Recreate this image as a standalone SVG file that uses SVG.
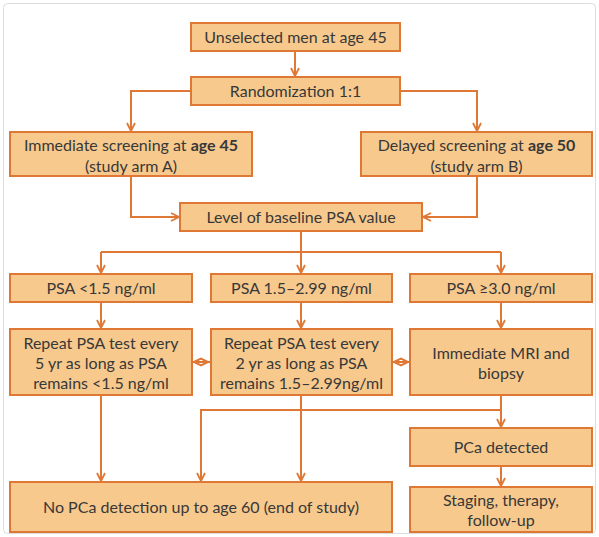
<svg xmlns="http://www.w3.org/2000/svg" width="599" height="537" viewBox="0 0 599 537">
<style>
.box{fill:#F7C98D;stroke:#DF7835;stroke-width:2}
.t{font-family:Lato,"Open Sans","Liberation Sans",sans-serif;font-size:16px;fill:#383838;text-anchor:middle}
.c{fill:none;stroke:#DF7835;stroke-width:2}
.b{font-weight:bold}
</style>
<defs>
<marker id="arr" viewBox="0 0 10 10" refX="9" refY="5" markerWidth="10" markerHeight="10" markerUnits="userSpaceOnUse" orient="auto">
<path d="M1,1 L9,5 L1,9" fill="none" stroke="#DF7835" stroke-width="1.8"/>
</marker>
</defs>
<rect x="3.5" y="3.5" width="592" height="530" rx="4" fill="#fff" stroke="#dcdcdc" stroke-width="1"/>
<g id="connectors">
<path class="c" d="M295,51 V76" marker-end="url(#arr)"/>
<path class="c" d="M191,91 H131 V131" marker-end="url(#arr)"/>
<path class="c" d="M400,91 H477 V131" marker-end="url(#arr)"/>
<path class="c" d="M131,176 V217 H179" marker-end="url(#arr)"/>
<path class="c" d="M477,176 V217 H423" marker-end="url(#arr)"/>
<path class="c" d="M301,231 V252"/>
<path class="c" d="M101,252 H501"/>
<path class="c" d="M101,252 V273" marker-end="url(#arr)"/>
<path class="c" d="M301,252 V273" marker-end="url(#arr)"/>
<path class="c" d="M501,252 V273" marker-end="url(#arr)"/>
<path class="c" d="M101,302 V328" marker-end="url(#arr)"/>
<path class="c" d="M301,302 V328" marker-end="url(#arr)"/>
<path class="c" d="M501,302 V328" marker-end="url(#arr)"/>
<path class="c" d="M192,362 H211"/>
<polygon class="c" points="194,362 201,358.5 208,362 201,365.5"/>
<path class="c" d="M392,362 H410"/>
<polygon class="c" points="394,362 401,358.5 408,362 401,365.5"/>
<path class="c" d="M101,395 V481" marker-end="url(#arr)"/>
<path class="c" d="M301,395 V481" marker-end="url(#arr)"/>
<path class="c" d="M501,395 V427" marker-end="url(#arr)"/>
<path class="c" d="M501,410 H201 V481" marker-end="url(#arr)"/>
<path class="c" d="M501,466 V486" marker-end="url(#arr)"/>
</g>
<g id="n1"><rect class="box" x="191" y="23" width="209" height="28"/><text class="t" x="295.5" y="42.5">Unselected men at age 45</text></g>
<g id="n2"><rect class="box" x="191" y="77" width="209" height="28"/><text class="t" x="295.5" y="96.5">Randomization 1:1</text></g>
<g id="n3"><rect class="box" x="10" y="132" width="242" height="44"/><text class="t" x="131" y="150.5">Immediate screening at <tspan class="b">age 45</tspan></text><text class="t" x="131" y="171.5">(study arm A)</text></g>
<g id="n4"><rect class="box" x="361" y="132" width="231" height="44"/><text class="t" x="476.5" y="150.5">Delayed screening at <tspan class="b">age 50</tspan></text><text class="t" x="476.5" y="171.5">(study arm B)</text></g>
<g id="n5"><rect class="box" x="180" y="203" width="242" height="28"/><text class="t" x="301" y="222.5">Level of baseline PSA value</text></g>
<g id="n6"><rect class="box" x="10" y="274" width="182" height="28"/><text class="t" x="101" y="293.5">PSA &lt;1.5 ng/ml</text></g>
<g id="n7"><rect class="box" x="211" y="274" width="181" height="28"/><text class="t" x="301.5" y="293.5">PSA 1.5–2.99 ng/ml</text></g>
<g id="n8"><rect class="box" x="410" y="274" width="182" height="28"/><text class="t" x="501" y="293.5">PSA ≥3.0 ng/ml</text></g>
<g id="n9"><rect class="box" x="10" y="329" width="182" height="66"/><text class="t" x="101" y="348.5">Repeat PSA test every</text><text class="t" x="101" y="368.5">5 yr as long as PSA</text><text class="t" x="101" y="388.5">remains &lt;1.5 ng/ml</text></g>
<g id="n10"><rect class="box" x="211" y="329" width="181" height="66"/><text class="t" x="301.5" y="348.5">Repeat PSA test every</text><text class="t" x="301.5" y="368.5">2 yr as long as PSA</text><text class="t" x="301.5" y="388.5">remains 1.5–2.99ng/ml</text></g>
<g id="n11"><rect class="box" x="410" y="329" width="182" height="66"/><text class="t" x="501" y="358.5">Immediate MRI and</text><text class="t" x="501" y="378.5">biopsy</text></g>
<g id="n12"><rect class="box" x="10" y="482" width="382" height="50"/><text class="t" x="201" y="512.5">No PCa detection up to age 60 (end of study)</text></g>
<g id="n13"><rect class="box" x="410" y="428" width="182" height="38"/><text class="t" x="501" y="452.5">PCa detected</text></g>
<g id="n14"><rect class="box" x="410" y="487" width="182" height="45"/><text class="t" x="501" y="505.5">Staging, therapy,</text><text class="t" x="501" y="525.5">follow-up</text></g>
</svg>
